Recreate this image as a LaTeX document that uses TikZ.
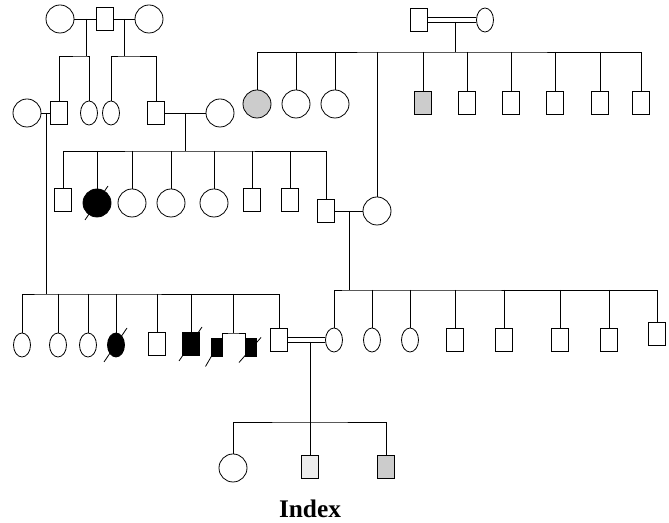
\documentclass[tikz,border=0pt]{standalone}
\usepackage{fontspec}
\setmainfont{Liberation Serif}
\usetikzlibrary{shapes.geometric,calc}

\tikzset{
  male/.style={draw, rectangle, minimum width=12.75pt, minimum height=17pt, inner sep=0pt},
  female/.style={draw, circle, minimum size=21pt, inner sep=0pt},
  femsmall/.style={draw, ellipse, minimum width=12.75pt, minimum height=18pt, inner sep=0pt},
  twinbox/.style={draw, rectangle, fill=black, minimum width=8.25pt, minimum height=14pt, inner sep=0pt},
  affected/.style={fill=black},
  carrier/.style={fill=gray!40},
  carrierlight/.style={fill=gray!14},
  consang/.style={double, double distance=3pt},
  slash/.style={line width=0.6pt},
}
\newcommand{\deceased}[1]{\draw[slash] ($(#1)+(-12,17)$) -- ($(#1)+(11,-17)$);}

\begin{document}
\begin{tikzpicture}[x=0.75pt,y=0.75pt,yscale=-1,xscale=1,line width=0.6pt]
\path[use as bounding box] (0,0) rectangle (669,523);

%Generation I (left)
\node[female] (i1) at (60,19) {};
\node[male]   (i2) at (105,19) {};
\node[female] (i3) at (149,19) {};
\draw (i1) -- (i2) -- (i3);
\coordinate (ma) at (86,19);
\coordinate (mb) at (124,19);
\coordinate (sa) at (86,56);
\coordinate (sb) at (124,56);
\draw (ma) -- (sa);
\draw (mb) -- (sb);

%Generation I (right), consanguineous couple
\node[male]     (j1) at (419,20) {};
\node[femsmall] (j2) at (485,20) {};
\draw[consang] (j1) -- (j2);
\coordinate (mj) at (455,22);
\coordinate (sj) at (455,52);
\draw (mj) -- (sj);

%Generation II (left)
\node[female]   (ii0) at (27,113) {};
\node[male]     (ii1) at (59,113) {};
\node[femsmall] (ii2) at (89,113) {};
\node[femsmall] (ii3) at (111,113) {};
\node[male]     (ii4) at (156,113) {};
\node[female]   (ii5) at (220,113) {};
\draw (ii1) |- (sa) -| (ii2);
\draw (ii3) |- (sb) -| (ii4);
\draw (ii0) -- (ii1);
\draw (ii4) -- (ii5);
\coordinate (mc) at (46,113);
\coordinate (md) at (185,113);
\coordinate (sd) at (46,294);
\coordinate (se) at (185,151);
\draw (mc) -- (sd);
\draw (md) -- (se);

%Generation II (right)
\node[female,carrier] (k1) at (257,104) {};
\node[female] (k2) at (296,104) {};
\node[female] (k3) at (335,104) {};
\node[male,carrier] (k4) at (423,103) {};
\node[male] (k5) at (467,103) {};
\node[male] (k6) at (511,103) {};
\node[male] (k7) at (555,103) {};
\node[male] (k8) at (600,103) {};
\node[male] (k9) at (641,103) {};
\draw (k1) |- (sj) -| (k9);
\foreach \c in {k2,k3,k4,k5,k6,k7,k8}
  \draw (sj -| \c) -- (\c);

%Generation III
\node[male] (iii1) at (63,200) {};
\node[female,affected] (iii2) at (97,203) {};
\node[female] (iii3) at (132,203) {};
\node[female] (iii4) at (171,203) {};
\node[female] (iii5) at (214,203) {};
\node[male] (iii6) at (252,200) {};
\node[male] (iii7) at (290,200) {};
\node[male] (iii8) at (326,211) {};
\node[female] (iii9) at (377,211) {};
\draw (iii1) |- (se) -| (iii8);
\foreach \c in {iii2,iii3,iii4,iii5,iii6,iii7}
  \draw (se -| \c) -- (\c);
\draw (sj -| iii9) -- (iii9);
\draw (iii8) -- (iii9);
\deceased{iii2}
\coordinate (mg) at (349,211);
\coordinate (sg) at (349,290);
\draw (mg) -- (sg);

%Generation IV (left)
\node[femsmall] (iv1) at (22,345) {};
\node[femsmall] (iv2) at (58,345) {};
\node[femsmall] (iv3) at (88,345) {};
\node[femsmall,affected] (iv4) at (116,345) {};
\node[male] (iv5) at (157,344) {};
\node[male,affected] (iv6) at (191,344) {};
\node[twinbox] (tw1) at (216.5,347.5) {};
\node[twinbox] (tw2) at (251,347.5) {};
\coordinate (tt) at (233,333);
\node[male] (iv7) at (279,340) {};
\draw (iv1) |- (sd) -| (iv7);
\foreach \c in {iv2,iv3,iv4,iv5,iv6,tt}
  \draw (sd -| \c) -- (\c);
\draw (tw1.north east) |- (tt) -| (tw2.north west);
\deceased{iv4}
\deceased{iv6}
\draw[slash] ($(tw1)+(-11,19)$) -- (tw1.center);
\draw[slash] ($(tw2)+(-12,15)$) -- ($(tw2)+(10,-10)$);

%Generation IV (right)
\node[femsmall] (iv8) at (334,340) {};
\node[femsmall] (iv9) at (372,340) {};
\node[femsmall] (iv10) at (410,340) {};
\node[male] (iv11) at (455,340) {};
\node[male] (iv12) at (504,340) {};
\node[male] (iv13) at (560,340) {};
\node[male] (iv14) at (609,340) {};
\node[male] (iv15) at (657,334) {};
\draw (iv8) |- (sg) -| (iv15);
\foreach \c in {iv9,iv10,iv11,iv12,iv13,iv14}
  \draw (sg -| \c) -- (\c);
\draw[consang] (iv7) -- (iv8);

%Generation V
\coordinate (mv) at (310,342);
\coordinate (sv) at (310,422);
\node[female] (v1) at (233,468) {};
\node[male,carrierlight] (v2) at (310,467) {};
\node[male,carrier] (v3) at (386,467) {};
\draw (mv) -- (sv);
\draw (v1) |- (sv) -| (v3);
\draw (sv) -- (v2);

% Text Node
\node[font=\fontsize{19}{22}\selectfont\bfseries, inner sep=0pt] (idx) at (310,509) {Index};

\end{tikzpicture}
\end{document}
